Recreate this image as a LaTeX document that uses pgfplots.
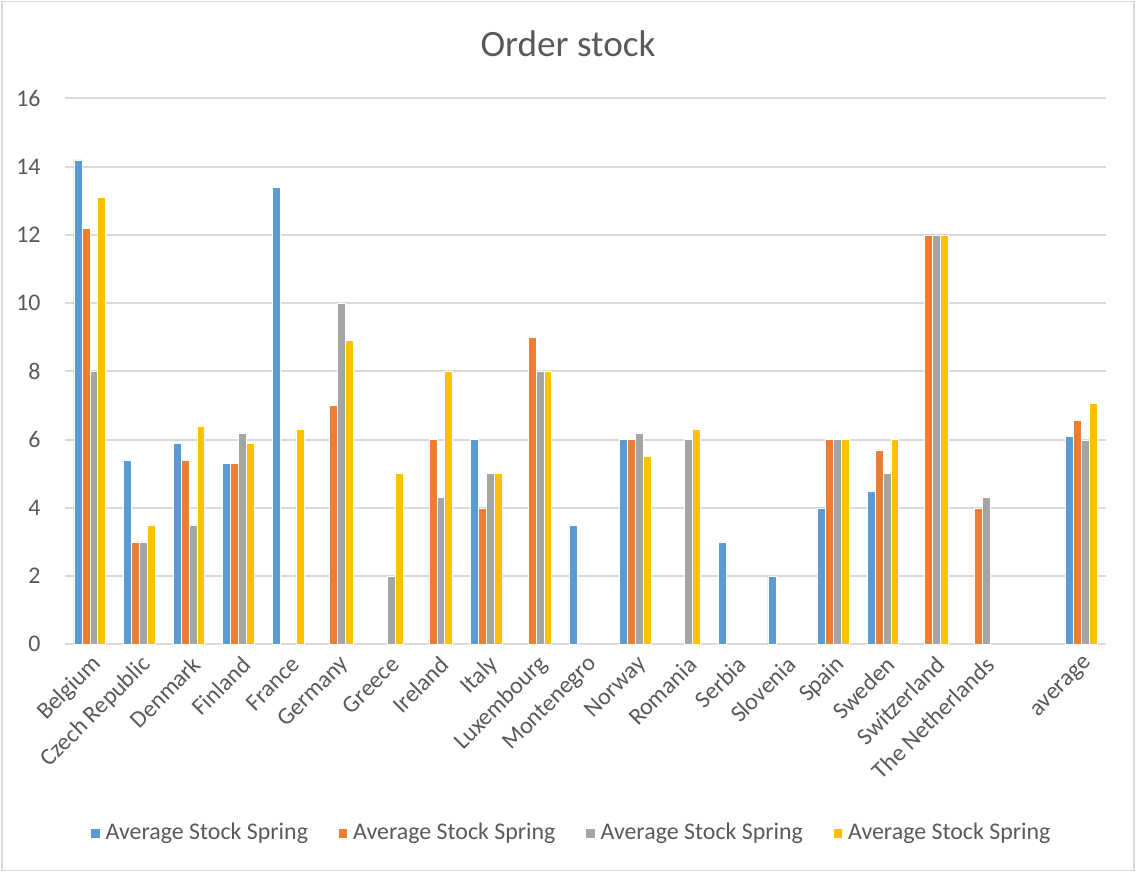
\documentclass[border=0pt]{standalone}
\usepackage{pgfplots}
\pgfplotsset{compat=1.18}
\usepackage{pgfplotstable}
\usepackage{fontspec}
\setmainfont{Carlito}

\definecolor{sblue}{HTML}{5B9BD5}
\definecolor{sorange}{HTML}{ED7D31}
\definecolor{sgray}{HTML}{A5A5A5}
\definecolor{sgold}{HTML}{FFC000}
\definecolor{gridgray}{HTML}{D9D9D9}
\definecolor{txtgray}{HTML}{595959}

% order stock per country, four series; slot 19 is left empty
\pgfplotstableread{
idx a b c d
0 14.2 12.2 8 13.1
1 5.4 3 3 3.5
2 5.9 5.4 3.5 6.4
3 5.3 5.3 6.2 5.9
4 13.4 nan nan 6.3
5 nan 7 10 8.9
6 nan nan 2 5
7 nan 6 4.3 8
8 6 4 5 5
9 nan 9 8 8
10 3.5 nan nan nan
11 6 6 6.2 5.5
12 nan nan 6 6.3
13 3 nan nan nan
14 2 nan nan nan
15 4 6 6 6
16 4.5 5.7 5 6
17 nan 12 12 12
18 nan 4 4.3 nan
20 6.10 6.58 5.97 7.06
}\datatable

\begin{document}
\begin{tikzpicture}[x=0.3766pt,y=0.3766pt]
\path (0,0) rectangle (1136,872);
\draw[gridgray, line width=0.5pt] (2,1.5) rectangle (1134,870.5);
\node[font=\fontsize{14}{16}\selectfont, text=txtgray] at (568,828) {Order stock};
\begin{axis}[
  at={(24.479pt,85.75pt)}, anchor=south west,
  scale only axis,
  width=392.04pt, height=205.59pt,
  ybar=0pt, bar width=2.975pt,
  xmin=0, xmax=21,
  ymin=0, ymax=16,
  ytick={0,2,...,16},
  xtick={0.5,1.5,...,20.5},
  xticklabels={Belgium,Czech Republic,Denmark,Finland,France,Germany,Greece,Ireland,Italy,Luxembourg,Montenegro,Norway,Romania,Serbia,Slovenia,Spain,Sweden,Switzerland,The Netherlands,,average},
  major tick length=0pt,
  axis y line*=left, y axis line style={draw=none},
  axis x line*=bottom, x axis line style={gridgray, line width=0.75pt},
  ymajorgrids, grid style={gridgray, line width=0.75pt},
  /pgf/number format/assume math mode=true,
  tick label style={font=\fontsize{9}{11}\selectfont, text=txtgray},
  yticklabel style={xshift=-5.7pt},
  xticklabel style={rotate=45, anchor=east, xshift=1.2pt, yshift=-6.5pt},
  legend columns=4,
  legend style={draw=none, fill=none, at={(0.488,-0.3457)}, anchor=center,
    font=\fontsize{9}{11}\selectfont, text=txtgray,
    /tikz/every even column/.append style={column sep=9.2pt},
    inner sep=0pt, outer sep=0pt},
  legend image code/.code={\fill[#1] (0pt,-1.8pt) rectangle (3.6pt,1.8pt);},
]
\addplot[fill=sblue, draw=white, line width=0.2pt] table[x expr=\thisrow{idx}+0.5, y=a] {\datatable};
\addplot[fill=sorange, draw=white, line width=0.2pt] table[x expr=\thisrow{idx}+0.5, y=b] {\datatable};
\addplot[fill=sgray, draw=white, line width=0.2pt] table[x expr=\thisrow{idx}+0.5, y=c] {\datatable};
\addplot[fill=sgold, draw=white, line width=0.2pt] table[x expr=\thisrow{idx}+0.5, y=d] {\datatable};
\legend{Average Stock Spring,Average Stock Spring,Average Stock Spring,Average Stock Spring}
\end{axis}
\end{tikzpicture}
\end{document}
